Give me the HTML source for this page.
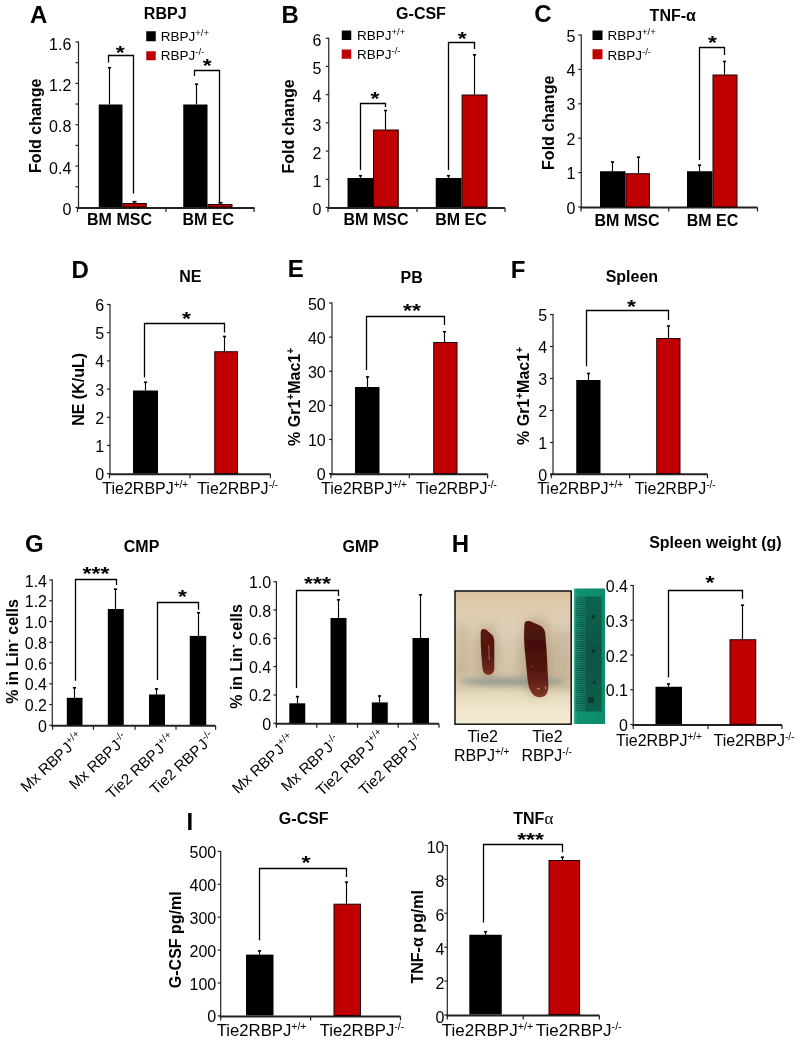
<!DOCTYPE html><html><head><meta charset="utf-8"><style>html,body{margin:0;padding:0;background:#fff;}svg{display:block;filter:blur(0.35px);}text{font-family:"Liberation Sans",sans-serif;fill:#000;}</style></head><body>
<svg width="800" height="1043" viewBox="0 0 800 1043">
<rect width="800" height="1043" fill="#fff"/>
<text x="30.00" y="22.50" font-size="24" font-weight="bold" text-anchor="start" >A</text>
<text x="165.20" y="18.60" font-size="16" font-weight="bold" text-anchor="middle" >RBPJ</text>
<line x1="78.50" y1="41.50" x2="78.50" y2="207.50" stroke="#222" stroke-width="1.2"/>
<line x1="75.50" y1="207.50" x2="78.50" y2="207.50" stroke="#222" stroke-width="1.2"/>
<line x1="75.50" y1="186.81" x2="78.50" y2="186.81" stroke="#222" stroke-width="1.2"/>
<line x1="75.50" y1="166.12" x2="78.50" y2="166.12" stroke="#222" stroke-width="1.2"/>
<line x1="75.50" y1="145.44" x2="78.50" y2="145.44" stroke="#222" stroke-width="1.2"/>
<line x1="75.50" y1="124.75" x2="78.50" y2="124.75" stroke="#222" stroke-width="1.2"/>
<line x1="75.50" y1="104.06" x2="78.50" y2="104.06" stroke="#222" stroke-width="1.2"/>
<line x1="75.50" y1="83.37" x2="78.50" y2="83.37" stroke="#222" stroke-width="1.2"/>
<line x1="75.50" y1="62.69" x2="78.50" y2="62.69" stroke="#222" stroke-width="1.2"/>
<line x1="75.50" y1="42.00" x2="78.50" y2="42.00" stroke="#222" stroke-width="1.2"/>
<text x="71.30" y="215.00" font-size="16" text-anchor="end" >0</text>
<text x="71.30" y="173.62" font-size="16" text-anchor="end" >0.4</text>
<text x="71.30" y="132.25" font-size="16" text-anchor="end" >0.8</text>
<text x="71.30" y="90.88" font-size="16" text-anchor="end" >1.2</text>
<text x="71.30" y="49.50" font-size="16" text-anchor="end" >1.6</text>
<line x1="77.50" y1="208.00" x2="254.50" y2="208.00" stroke="#222" stroke-width="2"/>
<line x1="77.50" y1="208.00" x2="77.50" y2="212.00" stroke="#222" stroke-width="1.2"/>
<line x1="166.00" y1="208.00" x2="166.00" y2="212.00" stroke="#222" stroke-width="1.2"/>
<line x1="254.00" y1="208.00" x2="254.00" y2="212.00" stroke="#222" stroke-width="1.2"/>
<rect x="98.75" y="104.50" width="23.75" height="102.50" fill="#000"/>
<rect x="123.00" y="203.50" width="23.25" height="3.50" fill="#c00000" stroke="#1a0000" stroke-width="1"/>
<rect x="183.25" y="104.50" width="24.25" height="102.50" fill="#000"/>
<rect x="208.00" y="204.50" width="24.00" height="2.50" fill="#c00000" stroke="#1a0000" stroke-width="1"/>
<line x1="109.50" y1="67.50" x2="109.50" y2="104.50" stroke="#000" stroke-width="1.15"/>
<line x1="107.90" y1="67.70" x2="111.10" y2="67.70" stroke="#000" stroke-width="1.6"/>
<line x1="196.50" y1="84.00" x2="196.50" y2="104.50" stroke="#000" stroke-width="1.15"/>
<line x1="194.90" y1="84.20" x2="198.10" y2="84.20" stroke="#000" stroke-width="1.6"/>
<line x1="134.50" y1="201.50" x2="134.50" y2="203.00" stroke="#000" stroke-width="1.15"/>
<line x1="132.50" y1="201.70" x2="136.50" y2="201.70" stroke="#000" stroke-width="1.6"/>
<line x1="220.50" y1="202.50" x2="220.50" y2="204.00" stroke="#000" stroke-width="1.15"/>
<line x1="218.50" y1="202.70" x2="222.50" y2="202.70" stroke="#000" stroke-width="1.6"/>
<polyline points="108.50,62.50 108.50,55.50 133.50,55.50 133.50,193.50" fill="none" stroke="#000" stroke-width="1.3"/>
<polyline points="194.50,76.00 194.50,70.50 219.50,70.50 219.50,203.50" fill="none" stroke="#000" stroke-width="1.3"/>
<text transform="translate(120.30,58.60) scale(1,0.8)" font-size="23" font-weight="bold" text-anchor="middle">*</text>
<text transform="translate(207.10,71.60) scale(1,0.8)" font-size="23" font-weight="bold" text-anchor="middle">*</text>
<rect x="146.25" y="31.25" width="9.50" height="10.00" fill="#000"/>
<rect x="146.25" y="51.25" width="9.50" height="9.00" fill="#c00000"/>
<text x="160.80" y="40.80" font-size="13.5" text-anchor="start" >RBPJ<tspan font-size="9.5" dy="-5">+/+</tspan></text>
<text x="160.80" y="60.20" font-size="13.5" text-anchor="start" >RBPJ<tspan font-size="9.5" dy="-5">-/-</tspan></text>
<text transform="translate(40.50,125.80) rotate(-90)" font-size="16" font-weight="bold" text-anchor="middle" >Fold change</text>
<text x="119.50" y="224.70" font-size="16" font-weight="bold" text-anchor="middle" >BM MSC</text>
<text x="208.25" y="224.70" font-size="16" font-weight="bold" text-anchor="middle" >BM EC</text>
<text x="281.40" y="22.50" font-size="24" font-weight="bold" text-anchor="start" >B</text>
<text x="421.00" y="19.25" font-size="16" font-weight="bold" text-anchor="middle" >G-CSF</text>
<line x1="328.75" y1="37.75" x2="328.75" y2="207.50" stroke="#222" stroke-width="1.2"/>
<line x1="325.75" y1="207.50" x2="328.75" y2="207.50" stroke="#222" stroke-width="1.2"/>
<line x1="325.75" y1="179.29" x2="328.75" y2="179.29" stroke="#222" stroke-width="1.2"/>
<line x1="325.75" y1="151.08" x2="328.75" y2="151.08" stroke="#222" stroke-width="1.2"/>
<line x1="325.75" y1="122.88" x2="328.75" y2="122.88" stroke="#222" stroke-width="1.2"/>
<line x1="325.75" y1="94.67" x2="328.75" y2="94.67" stroke="#222" stroke-width="1.2"/>
<line x1="325.75" y1="66.46" x2="328.75" y2="66.46" stroke="#222" stroke-width="1.2"/>
<line x1="325.75" y1="38.25" x2="328.75" y2="38.25" stroke="#222" stroke-width="1.2"/>
<text x="321.50" y="215.20" font-size="16" text-anchor="end" >0</text>
<text x="321.50" y="186.99" font-size="16" text-anchor="end" >1</text>
<text x="321.50" y="158.78" font-size="16" text-anchor="end" >2</text>
<text x="321.50" y="130.57" font-size="16" text-anchor="end" >3</text>
<text x="321.50" y="102.37" font-size="16" text-anchor="end" >4</text>
<text x="321.50" y="74.16" font-size="16" text-anchor="end" >5</text>
<text x="321.50" y="45.95" font-size="16" text-anchor="end" >6</text>
<line x1="327.75" y1="208.00" x2="505.00" y2="208.00" stroke="#222" stroke-width="2"/>
<line x1="328.00" y1="208.00" x2="328.00" y2="212.00" stroke="#222" stroke-width="1.2"/>
<line x1="417.00" y1="208.00" x2="417.00" y2="212.00" stroke="#222" stroke-width="1.2"/>
<line x1="505.00" y1="208.00" x2="505.00" y2="212.00" stroke="#222" stroke-width="1.2"/>
<rect x="347.50" y="178.00" width="25.50" height="29.00" fill="#000"/>
<rect x="373.50" y="130.00" width="24.75" height="77.00" fill="#c00000" stroke="#1a0000" stroke-width="1"/>
<rect x="435.75" y="178.00" width="25.85" height="29.00" fill="#000"/>
<rect x="462.10" y="95.00" width="24.90" height="112.00" fill="#c00000" stroke="#1a0000" stroke-width="1"/>
<line x1="360.50" y1="175.50" x2="360.50" y2="178.00" stroke="#000" stroke-width="1.15"/>
<line x1="358.90" y1="175.70" x2="362.10" y2="175.70" stroke="#000" stroke-width="1.6"/>
<line x1="385.50" y1="110.30" x2="385.50" y2="129.50" stroke="#000" stroke-width="1.15"/>
<line x1="383.90" y1="110.50" x2="387.10" y2="110.50" stroke="#000" stroke-width="1.6"/>
<line x1="448.50" y1="175.50" x2="448.50" y2="178.00" stroke="#000" stroke-width="1.15"/>
<line x1="446.90" y1="175.70" x2="450.10" y2="175.70" stroke="#000" stroke-width="1.6"/>
<line x1="474.50" y1="54.60" x2="474.50" y2="94.50" stroke="#000" stroke-width="1.15"/>
<line x1="472.90" y1="54.80" x2="476.10" y2="54.80" stroke="#000" stroke-width="1.6"/>
<polyline points="360.50,170.00 360.50,103.50 385.50,103.50 385.50,107.00" fill="none" stroke="#000" stroke-width="1.3"/>
<polyline points="448.50,170.00 448.50,42.50 474.50,42.50 474.50,49.00" fill="none" stroke="#000" stroke-width="1.3"/>
<text transform="translate(374.90,104.80) scale(1,0.8)" font-size="23" font-weight="bold" text-anchor="middle">*</text>
<text transform="translate(462.20,45.20) scale(1,0.8)" font-size="23" font-weight="bold" text-anchor="middle">*</text>
<rect x="341.75" y="30.50" width="9.50" height="9.50" fill="#000"/>
<rect x="341.75" y="49.50" width="9.50" height="9.25" fill="#c00000"/>
<text x="357.00" y="40.00" font-size="13.5" text-anchor="start" >RBPJ<tspan font-size="9.5" dy="-5">+/+</tspan></text>
<text x="357.00" y="59.00" font-size="13.5" text-anchor="start" >RBPJ<tspan font-size="9.5" dy="-5">-/-</tspan></text>
<text transform="translate(294.00,126.50) rotate(-90)" font-size="16" font-weight="bold" text-anchor="middle" >Fold change</text>
<text x="376.00" y="224.80" font-size="16" font-weight="bold" text-anchor="middle" >BM MSC</text>
<text x="461.00" y="224.80" font-size="16" font-weight="bold" text-anchor="middle" >BM EC</text>
<text x="534.30" y="21.50" font-size="24" font-weight="bold" text-anchor="start" >C</text>
<text x="672.75" y="21.25" font-size="16" font-weight="bold" text-anchor="middle" >TNF-α</text>
<line x1="581.25" y1="34.50" x2="581.25" y2="207.00" stroke="#222" stroke-width="1.2"/>
<line x1="578.25" y1="207.00" x2="581.25" y2="207.00" stroke="#222" stroke-width="1.2"/>
<line x1="578.25" y1="172.60" x2="581.25" y2="172.60" stroke="#222" stroke-width="1.2"/>
<line x1="578.25" y1="138.20" x2="581.25" y2="138.20" stroke="#222" stroke-width="1.2"/>
<line x1="578.25" y1="103.80" x2="581.25" y2="103.80" stroke="#222" stroke-width="1.2"/>
<line x1="578.25" y1="69.40" x2="581.25" y2="69.40" stroke="#222" stroke-width="1.2"/>
<line x1="578.25" y1="35.00" x2="581.25" y2="35.00" stroke="#222" stroke-width="1.2"/>
<text x="575.50" y="213.50" font-size="16" text-anchor="end" >0</text>
<text x="575.50" y="179.10" font-size="16" text-anchor="end" >1</text>
<text x="575.50" y="144.70" font-size="16" text-anchor="end" >2</text>
<text x="575.50" y="110.30" font-size="16" text-anchor="end" >3</text>
<text x="575.50" y="75.90" font-size="16" text-anchor="end" >4</text>
<text x="575.50" y="41.50" font-size="16" text-anchor="end" >5</text>
<line x1="580.25" y1="207.50" x2="757.50" y2="207.50" stroke="#222" stroke-width="2"/>
<line x1="581.00" y1="207.50" x2="581.00" y2="211.50" stroke="#222" stroke-width="1.2"/>
<line x1="668.75" y1="207.50" x2="668.75" y2="211.50" stroke="#222" stroke-width="1.2"/>
<line x1="757.50" y1="207.50" x2="757.50" y2="211.50" stroke="#222" stroke-width="1.2"/>
<rect x="600.00" y="171.25" width="25.50" height="35.75" fill="#000"/>
<rect x="626.00" y="173.75" width="23.50" height="33.25" fill="#c00000" stroke="#1a0000" stroke-width="1"/>
<rect x="687.00" y="171.25" width="25.50" height="35.75" fill="#000"/>
<rect x="713.00" y="75.00" width="24.00" height="132.00" fill="#c00000" stroke="#1a0000" stroke-width="1"/>
<line x1="612.50" y1="161.75" x2="612.50" y2="171.25" stroke="#000" stroke-width="1.15"/>
<line x1="610.90" y1="161.95" x2="614.10" y2="161.95" stroke="#000" stroke-width="1.6"/>
<line x1="638.50" y1="157.00" x2="638.50" y2="173.25" stroke="#000" stroke-width="1.15"/>
<line x1="636.90" y1="157.20" x2="640.10" y2="157.20" stroke="#000" stroke-width="1.6"/>
<line x1="699.50" y1="165.00" x2="699.50" y2="171.25" stroke="#000" stroke-width="1.15"/>
<line x1="697.90" y1="165.20" x2="701.10" y2="165.20" stroke="#000" stroke-width="1.6"/>
<line x1="724.50" y1="61.25" x2="724.50" y2="74.50" stroke="#000" stroke-width="1.15"/>
<line x1="722.90" y1="61.45" x2="726.10" y2="61.45" stroke="#000" stroke-width="1.6"/>
<polyline points="699.50,160.00 699.50,47.50 724.50,47.50 724.50,55.00" fill="none" stroke="#000" stroke-width="1.3"/>
<text transform="translate(712.35,49.10) scale(1,0.8)" font-size="23" font-weight="bold" text-anchor="middle">*</text>
<rect x="592.50" y="30.50" width="10.00" height="9.50" fill="#000"/>
<rect x="592.50" y="49.25" width="10.00" height="10.00" fill="#c00000"/>
<text x="607.50" y="40.00" font-size="13.5" text-anchor="start" >RBPJ<tspan font-size="9.5" dy="-5">+/+</tspan></text>
<text x="607.50" y="59.50" font-size="13.5" text-anchor="start" >RBPJ<tspan font-size="9.5" dy="-5">-/-</tspan></text>
<text transform="translate(553.50,122.80) rotate(-90)" font-size="16" font-weight="bold" text-anchor="middle" >Fold change</text>
<text x="627.00" y="226.25" font-size="16" font-weight="bold" text-anchor="middle" >BM MSC</text>
<text x="712.50" y="226.25" font-size="16" font-weight="bold" text-anchor="middle" >BM EC</text>
<text x="71.60" y="277.60" font-size="24" font-weight="bold" text-anchor="start" >D</text>
<text x="190.25" y="282.00" font-size="16" font-weight="bold" text-anchor="middle" >NE</text>
<line x1="110.00" y1="304.00" x2="110.00" y2="473.70" stroke="#222" stroke-width="1.2"/>
<line x1="107.00" y1="473.70" x2="110.00" y2="473.70" stroke="#222" stroke-width="1.2"/>
<line x1="107.00" y1="445.50" x2="110.00" y2="445.50" stroke="#222" stroke-width="1.2"/>
<line x1="107.00" y1="417.30" x2="110.00" y2="417.30" stroke="#222" stroke-width="1.2"/>
<line x1="107.00" y1="389.10" x2="110.00" y2="389.10" stroke="#222" stroke-width="1.2"/>
<line x1="107.00" y1="360.90" x2="110.00" y2="360.90" stroke="#222" stroke-width="1.2"/>
<line x1="107.00" y1="332.70" x2="110.00" y2="332.70" stroke="#222" stroke-width="1.2"/>
<line x1="107.00" y1="304.50" x2="110.00" y2="304.50" stroke="#222" stroke-width="1.2"/>
<text x="104.10" y="480.20" font-size="16" text-anchor="end" >0</text>
<text x="104.10" y="452.00" font-size="16" text-anchor="end" >1</text>
<text x="104.10" y="423.80" font-size="16" text-anchor="end" >2</text>
<text x="104.10" y="395.60" font-size="16" text-anchor="end" >3</text>
<text x="104.10" y="367.40" font-size="16" text-anchor="end" >4</text>
<text x="104.10" y="339.20" font-size="16" text-anchor="end" >5</text>
<text x="104.10" y="311.00" font-size="16" text-anchor="end" >6</text>
<line x1="109.00" y1="474.20" x2="270.40" y2="474.20" stroke="#222" stroke-width="2"/>
<line x1="109.50" y1="474.20" x2="109.50" y2="478.20" stroke="#222" stroke-width="1.2"/>
<line x1="190.00" y1="474.20" x2="190.00" y2="478.20" stroke="#222" stroke-width="1.2"/>
<line x1="270.40" y1="474.20" x2="270.40" y2="478.20" stroke="#222" stroke-width="1.2"/>
<rect x="133.00" y="390.50" width="25.00" height="83.00" fill="#000"/>
<rect x="214.75" y="351.75" width="22.75" height="121.75" fill="#c00000" stroke="#1a0000" stroke-width="1"/>
<line x1="145.50" y1="382.00" x2="145.50" y2="390.50" stroke="#000" stroke-width="1.15"/>
<line x1="143.90" y1="382.20" x2="147.10" y2="382.20" stroke="#000" stroke-width="1.6"/>
<line x1="224.50" y1="336.25" x2="224.50" y2="351.25" stroke="#000" stroke-width="1.15"/>
<line x1="222.90" y1="336.45" x2="226.10" y2="336.45" stroke="#000" stroke-width="1.6"/>
<polyline points="144.50,377.50 144.50,323.50 224.50,323.50 224.50,332.50" fill="none" stroke="#000" stroke-width="1.3"/>
<text transform="translate(186.50,324.50) scale(1,0.8)" font-size="23" font-weight="bold" text-anchor="middle">*</text>
<text transform="translate(84.00,389.40) rotate(-90)" font-size="16" font-weight="bold" text-anchor="middle" >NE (K/uL)</text>
<text x="102.30" y="493.50" font-size="16" text-anchor="start" >Tie2RBPJ<tspan font-size="10" dy="-6">+/+</tspan></text>
<text x="197.20" y="493.50" font-size="16" text-anchor="start" >Tie2RBPJ<tspan font-size="10" dy="-6">-/-</tspan></text>
<text x="287.75" y="277.00" font-size="24" font-weight="bold" text-anchor="start" >E</text>
<text x="411.60" y="282.50" font-size="16" font-weight="bold" text-anchor="middle" >PB</text>
<line x1="332.00" y1="302.50" x2="332.00" y2="473.60" stroke="#222" stroke-width="1.2"/>
<line x1="329.00" y1="473.60" x2="332.00" y2="473.60" stroke="#222" stroke-width="1.2"/>
<line x1="329.00" y1="439.48" x2="332.00" y2="439.48" stroke="#222" stroke-width="1.2"/>
<line x1="329.00" y1="405.36" x2="332.00" y2="405.36" stroke="#222" stroke-width="1.2"/>
<line x1="329.00" y1="371.24" x2="332.00" y2="371.24" stroke="#222" stroke-width="1.2"/>
<line x1="329.00" y1="337.12" x2="332.00" y2="337.12" stroke="#222" stroke-width="1.2"/>
<line x1="329.00" y1="303.00" x2="332.00" y2="303.00" stroke="#222" stroke-width="1.2"/>
<text x="325.70" y="480.10" font-size="16" text-anchor="end" >0</text>
<text x="325.70" y="445.98" font-size="16" text-anchor="end" >10</text>
<text x="325.70" y="411.86" font-size="16" text-anchor="end" >20</text>
<text x="325.70" y="377.74" font-size="16" text-anchor="end" >30</text>
<text x="325.70" y="343.62" font-size="16" text-anchor="end" >40</text>
<text x="325.70" y="309.50" font-size="16" text-anchor="end" >50</text>
<line x1="329.90" y1="474.20" x2="487.60" y2="474.20" stroke="#222" stroke-width="2"/>
<line x1="330.90" y1="474.20" x2="330.90" y2="478.20" stroke="#222" stroke-width="1.2"/>
<line x1="409.30" y1="474.20" x2="409.30" y2="478.20" stroke="#222" stroke-width="1.2"/>
<line x1="487.60" y1="474.20" x2="487.60" y2="478.20" stroke="#222" stroke-width="1.2"/>
<rect x="355.00" y="387.00" width="24.50" height="86.50" fill="#000"/>
<rect x="433.75" y="342.50" width="23.25" height="131.00" fill="#c00000" stroke="#1a0000" stroke-width="1"/>
<line x1="367.50" y1="376.75" x2="367.50" y2="387.00" stroke="#000" stroke-width="1.15"/>
<line x1="365.90" y1="376.95" x2="369.10" y2="376.95" stroke="#000" stroke-width="1.6"/>
<line x1="444.50" y1="331.50" x2="444.50" y2="342.00" stroke="#000" stroke-width="1.15"/>
<line x1="442.90" y1="331.70" x2="446.10" y2="331.70" stroke="#000" stroke-width="1.6"/>
<polyline points="366.50,370.00 366.50,316.50 444.50,316.50 444.50,325.00" fill="none" stroke="#000" stroke-width="1.3"/>
<text transform="translate(411.90,317.15) scale(1,0.8)" font-size="23" font-weight="bold" text-anchor="middle">**</text>
<text transform="translate(299.50,396.90) rotate(-90)" font-size="16" font-weight="bold" text-anchor="middle" >% Gr1<tspan font-size="10" dy="-6">+</tspan><tspan dy="6">Mac1</tspan><tspan font-size="10" dy="-6">+</tspan></text>
<text x="321.00" y="493.50" font-size="16" text-anchor="start" >Tie2RBPJ<tspan font-size="10" dy="-6">+/+</tspan></text>
<text x="416.00" y="493.50" font-size="16" text-anchor="start" >Tie2RBPJ<tspan font-size="10" dy="-6">-/-</tspan></text>
<text x="510.75" y="277.50" font-size="24" font-weight="bold" text-anchor="start" >F</text>
<text x="631.90" y="282.00" font-size="16" font-weight="bold" text-anchor="middle" >Spleen</text>
<line x1="553.00" y1="314.00" x2="553.00" y2="474.50" stroke="#222" stroke-width="1.2"/>
<line x1="550.00" y1="474.50" x2="553.00" y2="474.50" stroke="#222" stroke-width="1.2"/>
<line x1="550.00" y1="442.50" x2="553.00" y2="442.50" stroke="#222" stroke-width="1.2"/>
<line x1="550.00" y1="410.50" x2="553.00" y2="410.50" stroke="#222" stroke-width="1.2"/>
<line x1="550.00" y1="378.50" x2="553.00" y2="378.50" stroke="#222" stroke-width="1.2"/>
<line x1="550.00" y1="346.50" x2="553.00" y2="346.50" stroke="#222" stroke-width="1.2"/>
<line x1="550.00" y1="314.50" x2="553.00" y2="314.50" stroke="#222" stroke-width="1.2"/>
<text x="547.20" y="481.00" font-size="16" text-anchor="end" >0</text>
<text x="547.20" y="449.00" font-size="16" text-anchor="end" >1</text>
<text x="547.20" y="417.00" font-size="16" text-anchor="end" >2</text>
<text x="547.20" y="385.00" font-size="16" text-anchor="end" >3</text>
<text x="547.20" y="353.00" font-size="16" text-anchor="end" >4</text>
<text x="547.20" y="321.00" font-size="16" text-anchor="end" >5</text>
<line x1="550.25" y1="474.20" x2="707.50" y2="474.20" stroke="#222" stroke-width="2"/>
<line x1="551.25" y1="474.20" x2="551.25" y2="478.20" stroke="#222" stroke-width="1.2"/>
<line x1="629.60" y1="474.20" x2="629.60" y2="478.20" stroke="#222" stroke-width="1.2"/>
<line x1="707.50" y1="474.20" x2="707.50" y2="478.20" stroke="#222" stroke-width="1.2"/>
<rect x="576.25" y="380.00" width="24.25" height="93.50" fill="#000"/>
<rect x="656.75" y="338.50" width="23.25" height="135.00" fill="#c00000" stroke="#1a0000" stroke-width="1"/>
<line x1="588.50" y1="373.25" x2="588.50" y2="380.00" stroke="#000" stroke-width="1.15"/>
<line x1="586.90" y1="373.45" x2="590.10" y2="373.45" stroke="#000" stroke-width="1.6"/>
<line x1="668.50" y1="325.75" x2="668.50" y2="338.00" stroke="#000" stroke-width="1.15"/>
<line x1="666.90" y1="325.95" x2="670.10" y2="325.95" stroke="#000" stroke-width="1.6"/>
<polyline points="586.50,366.25 586.50,310.50 668.50,310.50 668.50,320.00" fill="none" stroke="#000" stroke-width="1.3"/>
<text transform="translate(631.40,312.90) scale(1,0.8)" font-size="23" font-weight="bold" text-anchor="middle">*</text>
<text transform="translate(528.50,396.00) rotate(-90)" font-size="16" font-weight="bold" text-anchor="middle" >% Gr1<tspan font-size="10" dy="-6">+</tspan><tspan dy="6">Mac1</tspan><tspan font-size="10" dy="-6">+</tspan></text>
<text x="537.20" y="493.50" font-size="16" text-anchor="start" >Tie2RBPJ<tspan font-size="10" dy="-6">+/+</tspan></text>
<text x="634.80" y="493.50" font-size="16" text-anchor="start" >Tie2RBPJ<tspan font-size="10" dy="-6">-/-</tspan></text>
<text x="25.10" y="551.50" font-size="24" font-weight="bold" text-anchor="start" >G</text>
<text x="141.60" y="552.00" font-size="16" font-weight="bold" text-anchor="middle" >CMP</text>
<line x1="52.25" y1="579.50" x2="52.25" y2="725.30" stroke="#222" stroke-width="1.2"/>
<line x1="49.25" y1="725.30" x2="52.25" y2="725.30" stroke="#222" stroke-width="1.2"/>
<line x1="49.25" y1="704.54" x2="52.25" y2="704.54" stroke="#222" stroke-width="1.2"/>
<line x1="49.25" y1="683.79" x2="52.25" y2="683.79" stroke="#222" stroke-width="1.2"/>
<line x1="49.25" y1="663.03" x2="52.25" y2="663.03" stroke="#222" stroke-width="1.2"/>
<line x1="49.25" y1="642.27" x2="52.25" y2="642.27" stroke="#222" stroke-width="1.2"/>
<line x1="49.25" y1="621.51" x2="52.25" y2="621.51" stroke="#222" stroke-width="1.2"/>
<line x1="49.25" y1="600.76" x2="52.25" y2="600.76" stroke="#222" stroke-width="1.2"/>
<line x1="49.25" y1="580.00" x2="52.25" y2="580.00" stroke="#222" stroke-width="1.2"/>
<text x="47.00" y="731.80" font-size="16" text-anchor="end" >0</text>
<text x="47.00" y="711.04" font-size="16" text-anchor="end" >0.2</text>
<text x="47.00" y="690.29" font-size="16" text-anchor="end" >0.4</text>
<text x="47.00" y="669.53" font-size="16" text-anchor="end" >0.6</text>
<text x="47.00" y="648.77" font-size="16" text-anchor="end" >0.8</text>
<text x="47.00" y="628.01" font-size="16" text-anchor="end" >1.0</text>
<text x="47.00" y="607.26" font-size="16" text-anchor="end" >1.2</text>
<text x="47.00" y="586.50" font-size="16" text-anchor="end" >1.4</text>
<line x1="51.25" y1="725.80" x2="215.60" y2="725.80" stroke="#222" stroke-width="2"/>
<line x1="52.60" y1="725.80" x2="52.60" y2="729.80" stroke="#222" stroke-width="1.2"/>
<line x1="93.40" y1="725.80" x2="93.40" y2="729.80" stroke="#222" stroke-width="1.2"/>
<line x1="135.10" y1="725.80" x2="135.10" y2="729.80" stroke="#222" stroke-width="1.2"/>
<line x1="176.00" y1="725.80" x2="176.00" y2="729.80" stroke="#222" stroke-width="1.2"/>
<line x1="215.60" y1="725.80" x2="215.60" y2="729.80" stroke="#222" stroke-width="1.2"/>
<rect x="66.80" y="697.80" width="15.70" height="27.20" fill="#000"/>
<rect x="107.80" y="609.00" width="15.95" height="116.00" fill="#000"/>
<rect x="149.00" y="694.50" width="16.00" height="30.50" fill="#000"/>
<rect x="189.75" y="635.90" width="16.50" height="89.10" fill="#000"/>
<line x1="74.50" y1="687.60" x2="74.50" y2="697.80" stroke="#000" stroke-width="1.15"/>
<line x1="72.90" y1="687.80" x2="76.10" y2="687.80" stroke="#000" stroke-width="1.6"/>
<line x1="115.50" y1="589.00" x2="115.50" y2="609.00" stroke="#000" stroke-width="1.15"/>
<line x1="113.90" y1="589.20" x2="117.10" y2="589.20" stroke="#000" stroke-width="1.6"/>
<line x1="156.50" y1="688.70" x2="156.50" y2="694.50" stroke="#000" stroke-width="1.15"/>
<line x1="154.90" y1="688.90" x2="158.10" y2="688.90" stroke="#000" stroke-width="1.6"/>
<line x1="198.50" y1="612.50" x2="198.50" y2="635.90" stroke="#000" stroke-width="1.15"/>
<line x1="196.90" y1="612.70" x2="200.10" y2="612.70" stroke="#000" stroke-width="1.6"/>
<polyline points="75.50,680.70 75.50,579.50 116.50,579.50 116.50,585.00" fill="none" stroke="#000" stroke-width="1.3"/>
<polyline points="157.50,680.00 157.50,602.50 198.50,602.50 198.50,609.80" fill="none" stroke="#000" stroke-width="1.3"/>
<text transform="translate(96.00,579.50) scale(1,0.8)" font-size="23" font-weight="bold" text-anchor="middle">***</text>
<text transform="translate(182.50,603.20) scale(1,0.8)" font-size="23" font-weight="bold" text-anchor="middle">*</text>
<text transform="translate(18.00,651.50) rotate(-90)" font-size="16" font-weight="bold" text-anchor="middle" >% in Lin<tspan font-size="10" dy="-6">-</tspan><tspan dy="6"> cells</tspan></text>
<text transform="translate(84.00,739.00) rotate(-43)" font-size="15.2" text-anchor="end" >Mx RBP<tspan dx="1">J</tspan><tspan font-size="10" dy="-6">+/+</tspan></text>
<text transform="translate(129.00,740.00) rotate(-43)" font-size="15.2" text-anchor="end" >Mx RBP<tspan dx="1">J</tspan><tspan font-size="10" dy="-6">-/-</tspan></text>
<text transform="translate(176.00,740.00) rotate(-43)" font-size="15.2" text-anchor="end" >Tie2 RBP<tspan dx="1">J</tspan><tspan font-size="10" dy="-6">+/+</tspan></text>
<text transform="translate(216.00,739.00) rotate(-43)" font-size="15.2" text-anchor="end" >Tie2 RBP<tspan dx="1">J</tspan><tspan font-size="10" dy="-6">-/-</tspan></text>
<text x="360.70" y="552.00" font-size="16" font-weight="bold" text-anchor="middle" >GMP</text>
<line x1="276.40" y1="581.20" x2="276.40" y2="723.30" stroke="#222" stroke-width="1.2"/>
<line x1="273.40" y1="723.30" x2="276.40" y2="723.30" stroke="#222" stroke-width="1.2"/>
<line x1="273.40" y1="694.98" x2="276.40" y2="694.98" stroke="#222" stroke-width="1.2"/>
<line x1="273.40" y1="666.66" x2="276.40" y2="666.66" stroke="#222" stroke-width="1.2"/>
<line x1="273.40" y1="638.34" x2="276.40" y2="638.34" stroke="#222" stroke-width="1.2"/>
<line x1="273.40" y1="610.02" x2="276.40" y2="610.02" stroke="#222" stroke-width="1.2"/>
<line x1="273.40" y1="581.70" x2="276.40" y2="581.70" stroke="#222" stroke-width="1.2"/>
<text x="271.20" y="729.80" font-size="16" text-anchor="end" >0</text>
<text x="271.20" y="701.48" font-size="16" text-anchor="end" >0.2</text>
<text x="271.20" y="673.16" font-size="16" text-anchor="end" >0.4</text>
<text x="271.20" y="644.84" font-size="16" text-anchor="end" >0.6</text>
<text x="271.20" y="616.52" font-size="16" text-anchor="end" >0.8</text>
<text x="271.20" y="588.20" font-size="16" text-anchor="end" >1.0</text>
<line x1="275.40" y1="723.80" x2="439.00" y2="723.80" stroke="#222" stroke-width="2"/>
<line x1="276.40" y1="723.80" x2="276.40" y2="727.80" stroke="#222" stroke-width="1.2"/>
<line x1="316.80" y1="723.80" x2="316.80" y2="727.80" stroke="#222" stroke-width="1.2"/>
<line x1="357.50" y1="723.80" x2="357.50" y2="727.80" stroke="#222" stroke-width="1.2"/>
<line x1="398.20" y1="723.80" x2="398.20" y2="727.80" stroke="#222" stroke-width="1.2"/>
<line x1="439.00" y1="723.80" x2="439.00" y2="727.80" stroke="#222" stroke-width="1.2"/>
<rect x="289.30" y="703.30" width="15.95" height="19.70" fill="#000"/>
<rect x="330.50" y="618.00" width="16.00" height="105.00" fill="#000"/>
<rect x="371.80" y="702.40" width="15.95" height="20.60" fill="#000"/>
<rect x="412.50" y="638.00" width="16.50" height="85.00" fill="#000"/>
<line x1="297.50" y1="696.40" x2="297.50" y2="703.30" stroke="#000" stroke-width="1.15"/>
<line x1="295.90" y1="696.60" x2="299.10" y2="696.60" stroke="#000" stroke-width="1.6"/>
<line x1="338.50" y1="599.60" x2="338.50" y2="618.00" stroke="#000" stroke-width="1.15"/>
<line x1="336.90" y1="599.80" x2="340.10" y2="599.80" stroke="#000" stroke-width="1.6"/>
<line x1="379.50" y1="695.80" x2="379.50" y2="702.40" stroke="#000" stroke-width="1.15"/>
<line x1="377.90" y1="696.00" x2="381.10" y2="696.00" stroke="#000" stroke-width="1.6"/>
<line x1="420.50" y1="594.60" x2="420.50" y2="638.00" stroke="#000" stroke-width="1.15"/>
<line x1="418.90" y1="594.80" x2="422.10" y2="594.80" stroke="#000" stroke-width="1.6"/>
<polyline points="296.50,688.00 296.50,590.50 338.50,590.50 338.50,596.00" fill="none" stroke="#000" stroke-width="1.3"/>
<text transform="translate(317.50,590.10) scale(1,0.8)" font-size="23" font-weight="bold" text-anchor="middle">***</text>
<text transform="translate(242.00,656.40) rotate(-90)" font-size="16" font-weight="bold" text-anchor="middle" >% in Lin<tspan font-size="10" dy="-6">-</tspan><tspan dy="6"> cells</tspan></text>
<text transform="translate(295.70,740.50) rotate(-43)" font-size="15.2" text-anchor="end" >Mx RBP<tspan dx="1">J</tspan><tspan font-size="10" dy="-6">+/+</tspan></text>
<text transform="translate(341.00,742.00) rotate(-43)" font-size="15.2" text-anchor="end" >Mx RBP<tspan dx="1">J</tspan><tspan font-size="10" dy="-6">-/-</tspan></text>
<text transform="translate(386.00,737.00) rotate(-43)" font-size="15.2" text-anchor="end" >Tie2 RBP<tspan dx="1">J</tspan><tspan font-size="10" dy="-6">+/+</tspan></text>
<text transform="translate(425.00,740.00) rotate(-43)" font-size="15.2" text-anchor="end" >Tie2 RBP<tspan dx="1">J</tspan><tspan font-size="10" dy="-6">-/-</tspan></text>
<text x="451.75" y="552.30" font-size="24" font-weight="bold" text-anchor="start" >H</text>
<defs>
<linearGradient id="pbg" x1="0" y1="0" x2="0" y2="1">
<stop offset="0" stop-color="#dcc29e"/>
<stop offset="0.12" stop-color="#ddcbae"/>
<stop offset="0.3" stop-color="#dcceb6"/>
<stop offset="0.5" stop-color="#d5c7ad"/>
<stop offset="0.63" stop-color="#d2c3a6"/>
<stop offset="0.72" stop-color="#d6c9ad"/>
<stop offset="0.78" stop-color="#e6dabe"/>
<stop offset="0.88" stop-color="#f0e5cb"/>
<stop offset="1" stop-color="#f5ecd5"/>
</linearGradient>
<linearGradient id="sp1" x1="0" y1="0" x2="0" y2="1">
<stop offset="0" stop-color="#5e1a13"/>
<stop offset="0.5" stop-color="#50150f"/>
<stop offset="0.85" stop-color="#68261b"/>
<stop offset="1" stop-color="#7a3020"/>
</linearGradient>
<linearGradient id="sp2" x1="0" y1="0" x2="0" y2="1">
<stop offset="0" stop-color="#56170f"/>
<stop offset="0.3" stop-color="#46100b"/>
<stop offset="0.6" stop-color="#50140d"/>
<stop offset="0.85" stop-color="#6a2619"/>
<stop offset="1" stop-color="#843a25"/>
</linearGradient>
<linearGradient id="rul" x1="0" y1="0" x2="1" y2="0">
<stop offset="0" stop-color="#35ad90"/>
<stop offset="0.12" stop-color="#10906c"/>
<stop offset="1" stop-color="#0c8c68"/>
</linearGradient>
<linearGradient id="rulin" x1="0" y1="0" x2="0" y2="1">
<stop offset="0" stop-color="#0d6450"/>
<stop offset="0.5" stop-color="#0b5444"/>
<stop offset="1" stop-color="#0d604c"/>
</linearGradient>
<pattern id="rticks" x="0" y="0" width="20" height="2.2" patternUnits="userSpaceOnUse">
<rect x="0" y="0" width="20" height="1.0" fill="#1f9c7e" opacity="0.55"/>
</pattern>
<clipPath id="pclip"><rect x="454.6" y="590.6" width="117" height="134"/></clipPath>
<clipPath id="rclip"><rect x="573.9" y="588.5" width="31.2" height="135.5"/></clipPath>
<filter id="bl1" x="-20%" y="-20%" width="140%" height="140%"><feGaussianBlur stdDeviation="0.6"/></filter>
<filter id="bl3" x="-30%" y="-100%" width="160%" height="300%"><feGaussianBlur stdDeviation="2.5"/></filter>
<filter id="bl5" x="-50%" y="-50%" width="200%" height="200%"><feGaussianBlur stdDeviation="5"/></filter>
</defs>
<g id="photo">
<g clip-path="url(#pclip)">
<rect x="454.6" y="590.6" width="117" height="134" fill="url(#pbg)"/>
<ellipse cx="487" cy="652" rx="12" ry="28" fill="#9a8060" opacity="0.35" filter="url(#bl5)"/>
<rect x="455" y="625" width="14" height="50" fill="#b89c78" opacity="0.35" filter="url(#bl5)"/>
<ellipse cx="537" cy="657" rx="18" ry="40" fill="#9a7c5a" opacity="0.35" filter="url(#bl5)"/>
<rect x="556" y="630" width="15" height="60" fill="#a89070" opacity="0.3" filter="url(#bl5)"/>
<ellipse cx="512" cy="681.5" rx="52" ry="4.5" fill="#8a948c" opacity="0.75" filter="url(#bl3)"/>
<path d="M481.2,630.2 C482.5,628.6 484.2,628.6 486,629.6 L492.5,635.2 C494,637.5 494.4,640 494.3,644 L494.3,668 C494.2,672 492.5,674.6 489,674.8 C486,675 483.4,673.5 482.6,669 C481.5,658 480.6,645 480.7,635 C480.7,632.8 480.8,631.2 481.2,630.2 Z" fill="url(#sp1)" filter="url(#bl1)"/>
<path d="M524.6,623 C525.5,620.8 528,620.5 531,621.4 L540,625.5 C543,627 544.6,629.5 545.2,633 L546.6,650 L548.2,682 C548.6,690 547.6,694.5 544,696.2 C540.5,697.8 535.5,697.5 532.6,694 C529.5,690 528.3,686 527.6,680 L525,652 C524,642 523.8,631 524.6,623 Z" fill="url(#sp2)" filter="url(#bl1)"/>
<path d="M488.6,645 L489.4,660" stroke="#e8d0c0" stroke-width="0.7" opacity="0.6"/>
<path d="M537,688.5 L540,689" stroke="#f0d8c8" stroke-width="0.9" opacity="0.7"/>
<path d="M545.5,686.5 L545.7,689" stroke="#f0d8c8" stroke-width="0.9" opacity="0.8"/>
<path d="M531,666 L532,667" stroke="#e0b8a8" stroke-width="0.9" opacity="0.6"/>
</g>
<rect x="455" y="591" width="116.2" height="133.2" fill="none" stroke="#111" stroke-width="1.5"/>
<rect x="573.9" y="588.5" width="31.2" height="135.5" fill="url(#rul)"/>
<g clip-path="url(#rclip)"><rect x="575.7" y="596.6" width="26" height="114.8" fill="url(#rulin)" filter="url(#bl1)"/>
<rect x="575.7" y="596.6" width="10" height="114.8" fill="url(#rticks)"/>
<rect x="575.7" y="596.6" width="4" height="114.8" fill="url(#rticks)"/></g>
<g fill="#06302a" opacity="0.7">
<rect x="592" y="615" width="3" height="4"/>
<rect x="592" y="649" width="3" height="4"/>
<rect x="593" y="681" width="3" height="3"/>
<rect x="588" y="697" width="6" height="6"/>
</g>
</g>

<text x="482.70" y="742.00" font-size="16" text-anchor="middle" >Tie2</text>
<text x="547.40" y="742.00" font-size="16" text-anchor="middle" >Tie2</text>
<text x="454.00" y="761.25" font-size="16" text-anchor="start" >RBPJ<tspan font-size="10" dy="-6">+/+</tspan></text>
<text x="521.40" y="761.25" font-size="16" text-anchor="start" >RBPJ<tspan font-size="10" dy="-6">-/-</tspan></text>
<text x="715.40" y="548.00" font-size="16" font-weight="bold" text-anchor="middle" >Spleen weight (g)</text>
<line x1="633.25" y1="585.00" x2="633.25" y2="724.50" stroke="#222" stroke-width="1.2"/>
<line x1="630.25" y1="724.50" x2="633.25" y2="724.50" stroke="#222" stroke-width="1.2"/>
<line x1="630.25" y1="689.75" x2="633.25" y2="689.75" stroke="#222" stroke-width="1.2"/>
<line x1="630.25" y1="655.00" x2="633.25" y2="655.00" stroke="#222" stroke-width="1.2"/>
<line x1="630.25" y1="620.25" x2="633.25" y2="620.25" stroke="#222" stroke-width="1.2"/>
<line x1="630.25" y1="585.50" x2="633.25" y2="585.50" stroke="#222" stroke-width="1.2"/>
<text x="628.00" y="731.00" font-size="16" text-anchor="end" >0</text>
<text x="628.00" y="696.25" font-size="16" text-anchor="end" >0.1</text>
<text x="628.00" y="661.50" font-size="16" text-anchor="end" >0.2</text>
<text x="628.00" y="626.75" font-size="16" text-anchor="end" >0.3</text>
<text x="628.00" y="592.00" font-size="16" text-anchor="end" >0.4</text>
<line x1="632.25" y1="725.00" x2="782.00" y2="725.00" stroke="#222" stroke-width="2"/>
<line x1="633.25" y1="725.00" x2="633.25" y2="729.00" stroke="#222" stroke-width="1.2"/>
<line x1="708.00" y1="725.00" x2="708.00" y2="729.00" stroke="#222" stroke-width="1.2"/>
<line x1="782.00" y1="725.00" x2="782.00" y2="729.00" stroke="#222" stroke-width="1.2"/>
<rect x="655.50" y="686.75" width="26.50" height="37.55" fill="#000"/>
<rect x="730.00" y="639.75" width="25.75" height="84.55" fill="#c00000" stroke="#1a0000" stroke-width="1"/>
<line x1="668.50" y1="683.75" x2="668.50" y2="686.75" stroke="#000" stroke-width="1.15"/>
<line x1="666.90" y1="683.95" x2="670.10" y2="683.95" stroke="#000" stroke-width="1.6"/>
<line x1="742.50" y1="605.00" x2="742.50" y2="639.25" stroke="#000" stroke-width="1.15"/>
<line x1="740.90" y1="605.20" x2="744.10" y2="605.20" stroke="#000" stroke-width="1.6"/>
<polyline points="668.50,677.50 668.50,590.50 742.50,590.50 742.50,598.75" fill="none" stroke="#000" stroke-width="1.3"/>
<text transform="translate(709.90,589.40) scale(1,0.8)" font-size="23" font-weight="bold" text-anchor="middle">*</text>
<text x="616.00" y="746.25" font-size="16" text-anchor="start" >Tie2RBPJ<tspan font-size="10" dy="-6">+/+</tspan></text>
<text x="713.50" y="746.25" font-size="16" text-anchor="start" >Tie2RBPJ<tspan font-size="10" dy="-6">-/-</tspan></text>
<text x="186.60" y="830.00" font-size="24" font-weight="bold" text-anchor="start" >I</text>
<text x="303.75" y="824.20" font-size="16" font-weight="bold" text-anchor="middle" >G-CSF</text>
<line x1="220.70" y1="850.90" x2="220.70" y2="1015.90" stroke="#222" stroke-width="1.2"/>
<line x1="217.70" y1="1015.90" x2="220.70" y2="1015.90" stroke="#222" stroke-width="1.2"/>
<line x1="217.70" y1="983.00" x2="220.70" y2="983.00" stroke="#222" stroke-width="1.2"/>
<line x1="217.70" y1="950.10" x2="220.70" y2="950.10" stroke="#222" stroke-width="1.2"/>
<line x1="217.70" y1="917.20" x2="220.70" y2="917.20" stroke="#222" stroke-width="1.2"/>
<line x1="217.70" y1="884.30" x2="220.70" y2="884.30" stroke="#222" stroke-width="1.2"/>
<line x1="217.70" y1="851.40" x2="220.70" y2="851.40" stroke="#222" stroke-width="1.2"/>
<text x="216.20" y="1022.40" font-size="16" text-anchor="end" >0</text>
<text x="216.20" y="989.50" font-size="16" text-anchor="end" >100</text>
<text x="216.20" y="956.60" font-size="16" text-anchor="end" >200</text>
<text x="216.20" y="923.70" font-size="16" text-anchor="end" >300</text>
<text x="216.20" y="890.80" font-size="16" text-anchor="end" >400</text>
<text x="216.20" y="857.90" font-size="16" text-anchor="end" >500</text>
<line x1="219.70" y1="1016.40" x2="400.50" y2="1016.40" stroke="#222" stroke-width="2"/>
<line x1="220.70" y1="1016.40" x2="220.70" y2="1020.40" stroke="#222" stroke-width="1.2"/>
<line x1="310.60" y1="1016.40" x2="310.60" y2="1020.40" stroke="#222" stroke-width="1.2"/>
<line x1="400.50" y1="1016.40" x2="400.50" y2="1020.40" stroke="#222" stroke-width="1.2"/>
<rect x="246.00" y="954.60" width="27.50" height="60.90" fill="#000"/>
<rect x="334.00" y="904.20" width="26.50" height="111.30" fill="#c00000" stroke="#1a0000" stroke-width="1"/>
<line x1="259.50" y1="950.70" x2="259.50" y2="954.60" stroke="#000" stroke-width="1.15"/>
<line x1="257.90" y1="950.90" x2="261.10" y2="950.90" stroke="#000" stroke-width="1.6"/>
<line x1="346.50" y1="882.00" x2="346.50" y2="903.70" stroke="#000" stroke-width="1.15"/>
<line x1="344.90" y1="882.20" x2="348.10" y2="882.20" stroke="#000" stroke-width="1.6"/>
<polyline points="259.50,940.30 259.50,868.50 346.50,868.50 346.50,877.00" fill="none" stroke="#000" stroke-width="1.3"/>
<text transform="translate(306.00,869.40) scale(1,0.8)" font-size="23" font-weight="bold" text-anchor="middle">*</text>
<text transform="translate(181.00,939.75) rotate(-90)" font-size="16" font-weight="bold" text-anchor="middle" >G-CSF pg/ml</text>
<text transform="translate(216.70,1035.90) scale(1.045,1)" font-size="16" text-anchor="start" >Tie2RBPJ<tspan font-size="10" dy="-6">+/+</tspan></text>
<text transform="translate(319.70,1035.90) scale(1.045,1)" font-size="16" text-anchor="start" >Tie2RBPJ<tspan font-size="10" dy="-6">-/-</tspan></text>
<text x="533.30" y="824.20" font-size="16" font-weight="bold" text-anchor="middle" >TNF<tspan font-family="Liberation Serif" font-weight="normal" font-size="17">α</tspan></text>
<line x1="447.30" y1="844.90" x2="447.30" y2="1015.00" stroke="#222" stroke-width="1.2"/>
<line x1="444.30" y1="1015.00" x2="447.30" y2="1015.00" stroke="#222" stroke-width="1.2"/>
<line x1="444.30" y1="981.08" x2="447.30" y2="981.08" stroke="#222" stroke-width="1.2"/>
<line x1="444.30" y1="947.16" x2="447.30" y2="947.16" stroke="#222" stroke-width="1.2"/>
<line x1="444.30" y1="913.24" x2="447.30" y2="913.24" stroke="#222" stroke-width="1.2"/>
<line x1="444.30" y1="879.32" x2="447.30" y2="879.32" stroke="#222" stroke-width="1.2"/>
<line x1="444.30" y1="845.40" x2="447.30" y2="845.40" stroke="#222" stroke-width="1.2"/>
<text x="444.50" y="1022.50" font-size="16" text-anchor="end" >0</text>
<text x="444.50" y="988.58" font-size="16" text-anchor="end" >2</text>
<text x="444.50" y="954.66" font-size="16" text-anchor="end" >4</text>
<text x="444.50" y="920.74" font-size="16" text-anchor="end" >6</text>
<text x="444.50" y="886.82" font-size="16" text-anchor="end" >8</text>
<text x="444.50" y="852.90" font-size="16" text-anchor="end" >10</text>
<line x1="446.30" y1="1015.50" x2="599.40" y2="1015.50" stroke="#222" stroke-width="2"/>
<line x1="447.30" y1="1015.50" x2="447.30" y2="1019.50" stroke="#222" stroke-width="1.2"/>
<line x1="523.20" y1="1015.50" x2="523.20" y2="1019.50" stroke="#222" stroke-width="1.2"/>
<line x1="599.40" y1="1015.50" x2="599.40" y2="1019.50" stroke="#222" stroke-width="1.2"/>
<rect x="469.30" y="934.75" width="32.45" height="79.75" fill="#000"/>
<rect x="549.00" y="860.50" width="30.60" height="154.00" fill="#c00000" stroke="#1a0000" stroke-width="1"/>
<line x1="485.50" y1="931.50" x2="485.50" y2="934.75" stroke="#000" stroke-width="1.15"/>
<line x1="483.90" y1="931.70" x2="487.10" y2="931.70" stroke="#000" stroke-width="1.6"/>
<line x1="562.50" y1="857.00" x2="562.50" y2="860.00" stroke="#000" stroke-width="1.15"/>
<line x1="560.90" y1="857.20" x2="564.10" y2="857.20" stroke="#000" stroke-width="1.6"/>
<polyline points="483.50,922.40 483.50,844.50 562.50,844.50 562.50,852.25" fill="none" stroke="#000" stroke-width="1.3"/>
<text transform="translate(530.60,846.40) scale(1,0.8)" font-size="23" font-weight="bold" text-anchor="middle">***</text>
<text transform="translate(423.00,936.80) rotate(-90)" font-size="16" font-weight="bold" text-anchor="middle" >TNF-α pg/ml</text>
<text transform="translate(441.80,1035.70) scale(1.064,1)" font-size="16" text-anchor="start" >Tie2RBPJ<tspan font-size="10" dy="-6">+/+</tspan></text>
<text transform="translate(535.70,1035.70) scale(1.064,1)" font-size="16" text-anchor="start" >Tie2RBPJ<tspan font-size="10" dy="-6">-/-</tspan></text>
</svg></body></html>
